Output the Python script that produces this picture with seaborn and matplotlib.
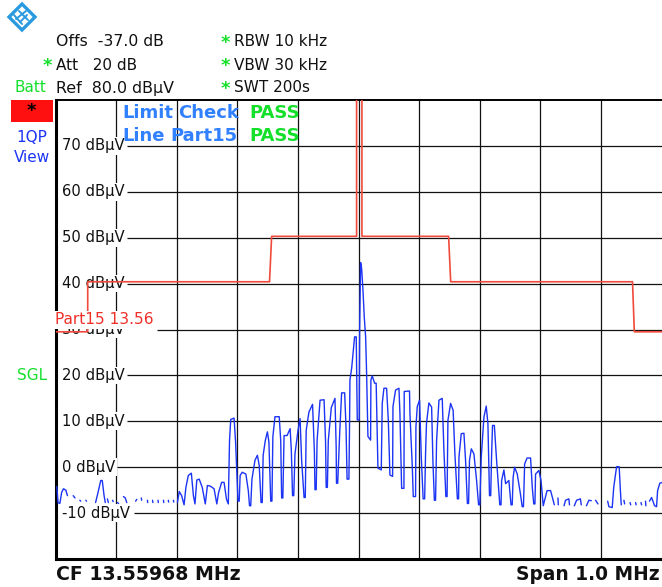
import numpy as np
import pandas as pd
import seaborn as sns
import matplotlib.pyplot as plt
from matplotlib.patches import Polygon, Rectangle

nan = np.nan

# kHz from centre frequency, dBuV. nan = gap in the trace
trace_freq = [-498, -496, -493, -490, -487, -483, -480.5, nan,
              -471, -468, nan, -460, -458.5, nan, -450, -449, nan,
              -434, -430, -425.5, -423, -420, -418, nan, -414.5, -413, nan,
              -406, -405, nan, -398, -396, nan, -388, -385, -382.6, nan,
              -368, -366, nan, -358.5, -358, nan, -348.5, -348, nan, -340, -339.5, nan,
              -331, -330.5, nan, -322, -321.5, nan, -314, -313.5, nan, -305.6, -305, nan,
              -299, -296, -292, -288, -285, -281, -276, -272.6, -270, -267, -263, -258, -253,
              -249.5, -245, -238.5, -234, -231, -226, -222, -218, -215,
              -213, -211, -205.5, -203, -199, -197,
              -195.5, -192, -186, -182, -180, -178,
              -176, -171, -167, -164, -161, -159,
              -157.5, -154, -150.5, -148, -145, -143,
              -141.5, -138, -131, -128.5, -127, -125,
              -123, -118, -113, -111, -109, -107,
              -105, -100, -96.6, -94, -90, -88,
              -86.5, -82, -76, -73, -72, -70,
              -68.5, -63.6, -57, -54.5, -53.5, -51.5,
              -50, -45, -39, -37, -36.5, -34.5,
              -31, -28, -23, -20.7, -19, -16,
              -15, -14.3, -11.5, -8.8, -6.6, -3.9, -3.3, -2.2, 1,
              1.7, 3.3, 5, 7.2, 9.3, 11.6, 13.2, 15.4, 19.8,
              20.3, 22.5, 26.4, 29, 31.9, 37.4,
              39, 41.8, 46.2, 49, 51.7, 56.1,
              56.7, 61, 66.6, 68.2, 71, 74.8,
              75.3, 84, 84.7, 88.6, 90.2, 94,
              94.6, 96.8, 100.6, 103.4, 106.5, 109,
              110.5, 112, 116, 120.5, 122.6, 125, 127,
              128.7, 132.6, 138, 140.8, 144, 146,
              147.4, 151.8, 156, 158.9, 163, 165,
              165.6, 169.4, 173.8, 176.5, 179.5, 181.5,
              183, 186, 190.3, 194.7, 198, 200,
              202.4, 206.8, 210.6, 213.4, 216, 218,
              219.5, 221, 224, 227.7, 233, 235,
              236, 239.8, 242.6, 248, 251.5, 253.5,
              255, 257.4, 261.8, 267, 270, 272,
              274, 278, 283.8, 286.6, 289, 291,
              292, 297.5, 301, 304.7,
              311, 316.8, 323, nan, 329, 329.5, nan,
              339, 341.5, 347, 348, nan,
              356, 359.7, 366, 367.4, nan,
              376, 380, 384, nan, 391, 395, nan,
              411, 413, 418.5, 421, 425.7, 430, 432, 433.4, nan,
              437.8, 439, nan, 448, 449, nan, 457, 458, nan, 466, 467, nan, 473.5, 474, nan,
              480, 483.5, 488.4, 491.7, 493.4, 497, 501.6]
trace_level = [-4.2, -7.7, -7.9, -5.5, -4.7, -5.0, -6.2, nan,
               -6.2, -6.7, nan, -7.2, -7.4, nan, -7.2, -7.4, nan,
               -7.7, -5.5, -2.9, -2.9, -6.2, -7.7, nan, -6.9, -7.7, nan,
               -7.2, -7.5, nan, -7.7, -7.9, nan, -6.4, -6.7, -7.7, nan,
               -7.4, -7.0, nan, -6.7, -7.2, nan, -7.2, -7.7, nan, -7.2, -7.7, nan,
               -7.2, -7.7, nan, -7.2, -7.7, nan, -7.2, -7.6, nan, -7.2, -7.6, nan,
               -7.7, -5.3, -6.2, -8.2, -4.4, -1.8, -1.3, -6.2, -8.0, -2.8, -2.6, -4.4, -8.0,
               -4.0, -4.1, -4.7, -8.0, -5.5, -3.3, -3.3, -7.0, -8.0,
               5.8, 10.4, 10.7, 5.5, -7.4, -7.4,
               -1.8, -1.1, -1.5, -5.1, -8.4, -8.4,
               -2.6, 1.5, 2.6, 0.4, -7.7, -7.7,
               2.6, 5.8, 7.7, 5.5, -7.4, -7.4,
               6.6, 11, 11, 5.8, -6.7, -6.7,
               6.9, 6.9, 8.4, 3.6, -6.2, -6.2,
               2.9, 8, 10.6, 1.5, -6.6, -6.6,
               8, 12, 13.7, 3.6, -4.9, -4.9,
               5.8, 14.6, 14.7, 5.5, -4.4, -4.4,
               5.8, 13, 15, 4.4, -3.5, -3.5,
               8, 16.2, 16.2, 8.4, -2.6, -2.6,
               8.5, 19, 21.5, 25.2, 28.4, 28.4, 22.6, 10.3, 10.3,
               29.9, 44.6, 43.3, 38.6, 32.8, 28.4, 20.5, 6.7, 5.9,
               19, 19.9, 18.3, 18.3, -0.2, -0.6,
               13.9, 17.2, 17.2, 10.3, -1.7, -2,
               13.2, 16.8, 17.2, 11.7, -4.6, -4.6,
               16.5, 16.6, 11.7, 0.1, -6.4, -6.4,
               8.8, 13.2, 14.6, 2.3, -6.9, -6.9,
               3, 9.5, 14, 13.1, 1.5, -7.2, -7.2,
               5.8, 14.6, 15, 3.6, -6.4, -6.4,
               10.2, 13.9, 12.4, 2.9, -6.9, -6.9,
               2.2, 7.3, 7.4, 1.5, -7.9, -7.9,
               1.5, 4, 2.9, -2.9, -8.2, -8.2,
               2.2, 10.9, 13.3, 9.5, -6.2, -6.2,
               2.9, 9.1, 9.1, 1.5, -8.2, -8.2,
               -2.9, -0.6, -3.6, -2.9, -8.2, -8.2,
               -2.2, 0, -1.5, -5.8, -8.6, -8.6,
               0.7, 2, 2, -4.4, -8, -8,
               -1.5, -0.7, -2.9, -8.4,
               -5.1, -5.1, -8.2, nan, -6.7, -8.2, nan,
               -8.4, -7.2, -6.9, -8.2, nan,
               -8.4, -7.2, -6.9, -8.2, nan,
               -8.4, -7.2, -7.3, nan, -7.2, -8, nan,
               -7.4, -8.6, -8.8, -4.4, 0.1, 0.1, -5.1, -8.2, nan,
               -7.2, -8.0, nan, -7.7, -8.2, nan, -7.7, -8.2, nan, -7.7, -8.2, nan, -7.4, -8.4, nan,
               -7.4, -6.6, -8.4, -8.6, -5.1, -3.5, -3.3]

limit_freq = [-500, -447, -447, -147, -143.5, -3.3, -3.3, 5.5, 5.5, 148.5, 152, 452, 455, 500]
limit_level = [29.5, 29.5, 40.4, 40.4, 50.3, 50.3, 90, 90, 50.3, 50.3, 40.4, 40.4, 29.5, 29.5]

y_levels = [70, 60, 50, 40, 30, 20, 10, 0, -10]
y_labels = ["70 dBµV", "60 dBµV", "50 dBµV", "40 dBµV", "30 dBµV", "20 dBµV", "10 dBµV", "0 dBµV", "-10 dBµV"]
x_grid = [-400, -300, -200, -100, 0, 100, 200, 300, 400]
# where each level line starts, right of its label (kHz)
grid_start = [-383, -383, -383, -383, -333, -383, -383, -399, -371]

BLUE = "#1c34f4"
LIGHTBLUE = "#3080ff"
GREEN = "#14e02c"
RED = "#f04a3c"

sns.set_theme(style="white")
plt.rcParams["font.family"] = ["DejaVu Sans"]

W, H = 662, 587
fig = plt.figure(figsize=(W / 100, H / 100), dpi=100)
ax = fig.add_axes([55.6 / W, (H - 559) / H, 606 / W, 459 / H])

df = pd.DataFrame({"freq": trace_freq, "level": trace_level})
df["seg"] = df["level"].isna().cumsum()
lim = pd.DataFrame({"freq": limit_freq, "level": limit_level})

sns.lineplot(data=df, x="freq", y="level", units="seg", estimator=None, sort=False,
             color=BLUE, lw=1.0, ax=ax, zorder=4)
sns.lineplot(data=lim, x="freq", y="level", estimator=None, sort=False,
             color=RED, lw=1.2, ax=ax, zorder=5)

ax.set_xlim(-500, 500)
ax.set_ylim(-20, 80)
ax.set_xticks(x_grid)
ax.set_yticks(y_levels)
ax.set_xticklabels([])
ax.set_yticklabels([])
ax.set_xlabel("")
ax.set_ylabel("")
ax.tick_params(length=0)
ax.xaxis.grid(True, color="#111111", lw=0.9)
ax.set_axisbelow(True)
ax.hlines(y_levels, grid_start, 500, color="#111111", lw=0.9, zorder=1)
ax.spines["right"].set_visible(False)
for name in ("left", "bottom", "top"):
    ax.spines[name].set_color("black")
    ax.spines[name].set_linewidth(1.4 if name == "top" else 2.2)


def put(x, y, s, **kw):
    kw.setdefault("fontsize", 11)
    kw.setdefault("color", "#111111")
    kw.setdefault("va", "center")
    return fig.text(x / W, 1 - y / H, s, **kw)


# level labels sit on white boxes that cut the vertical grid
for lev, lab in zip(y_levels, y_labels):
    ax.annotate(lab, xy=(62 / W, 1 - (559 - (lev + 20) * 4.59) / H), xycoords="figure fraction",
                ha="left", va="center", fontsize=10.6, color="#111111", zorder=2,
                bbox=dict(facecolor="white", edgecolor="none", pad=1.0))

ax.annotate("Part15 13.56", xy=(55 / W, 1 - 320 / H), xycoords="figure fraction",
            ha="left", va="center", fontsize=11.1, color="#f03028", zorder=6,
            bbox=dict(facecolor="white", edgecolor="none", pad=1.0))

# header
put(56, 42, "Offs  -37.0 dB", fontsize=11.3)
put(56, 65, "Att   20 dB")
put(56, 88, "Ref  80.0 dBµV", fontsize=11.4)
put(234, 42, "RBW 10 kHz")
put(234, 65, "VBW 30 kHz")
put(234, 88, "SWT 200s")
for x, y in [(225, 43), (225, 66), (225, 89), (47, 66)]:
    put(x, y, "*", color=GREEN, fontweight="bold", ha="center", fontsize=13)
put(15, 88, "Batt", color=GREEN)
put(17, 375, "SGL", color=GREEN)
put(32, 138, "1QP", color=BLUE, ha="center")
put(32, 158, "View", color=BLUE, ha="center")

fig.add_artist(Rectangle((11 / W, 1 - 122 / H), 42 / W, 22 / H, transform=fig.transFigure,
                         facecolor="#ff1010", edgecolor="none"))
put(31, 111, "*", color="black", ha="center", fontweight="bold", fontsize=13)

# limit check box
for x, y, s, c in [(122, 113, "Limit", LIGHTBLUE), (178, 113, "Check", LIGHTBLUE), (249, 113, "PASS", GREEN),
                   (122, 136, "Line", LIGHTBLUE), (170, 136, "Part15", LIGHTBLUE), (249, 136, "PASS", GREEN)]:
    put(x, y, s, color=c, fontweight="bold", fontsize=13, zorder=8)

put(56, 575, "CF 13.55968 MHz", fontweight="bold", fontsize=13.6)
put(660, 575, "Span 1.0 MHz", fontweight="bold", fontsize=13.4, ha="right")

# logo
logo = [(22, 4), (35, 17), (22, 30), (9, 17)]
fig.add_artist(Polygon([(x / W, 1 - y / H) for x, y in logo], closed=True, transform=fig.transFigure,
                       facecolor="white", edgecolor="#2a9ae0", lw=2.4))
for a, b in [((16, 19), (26, 11)), ((19, 11), (28, 20)), ((14, 15), (22, 24)), ((20, 22), (27, 15))]:
    fig.add_artist(plt.Line2D([a[0] / W, b[0] / W], [1 - a[1] / H, 1 - b[1] / H],
                              transform=fig.transFigure, color="#2a9ae0", lw=1.4))

fig.savefig("out.png", dpi=100)
